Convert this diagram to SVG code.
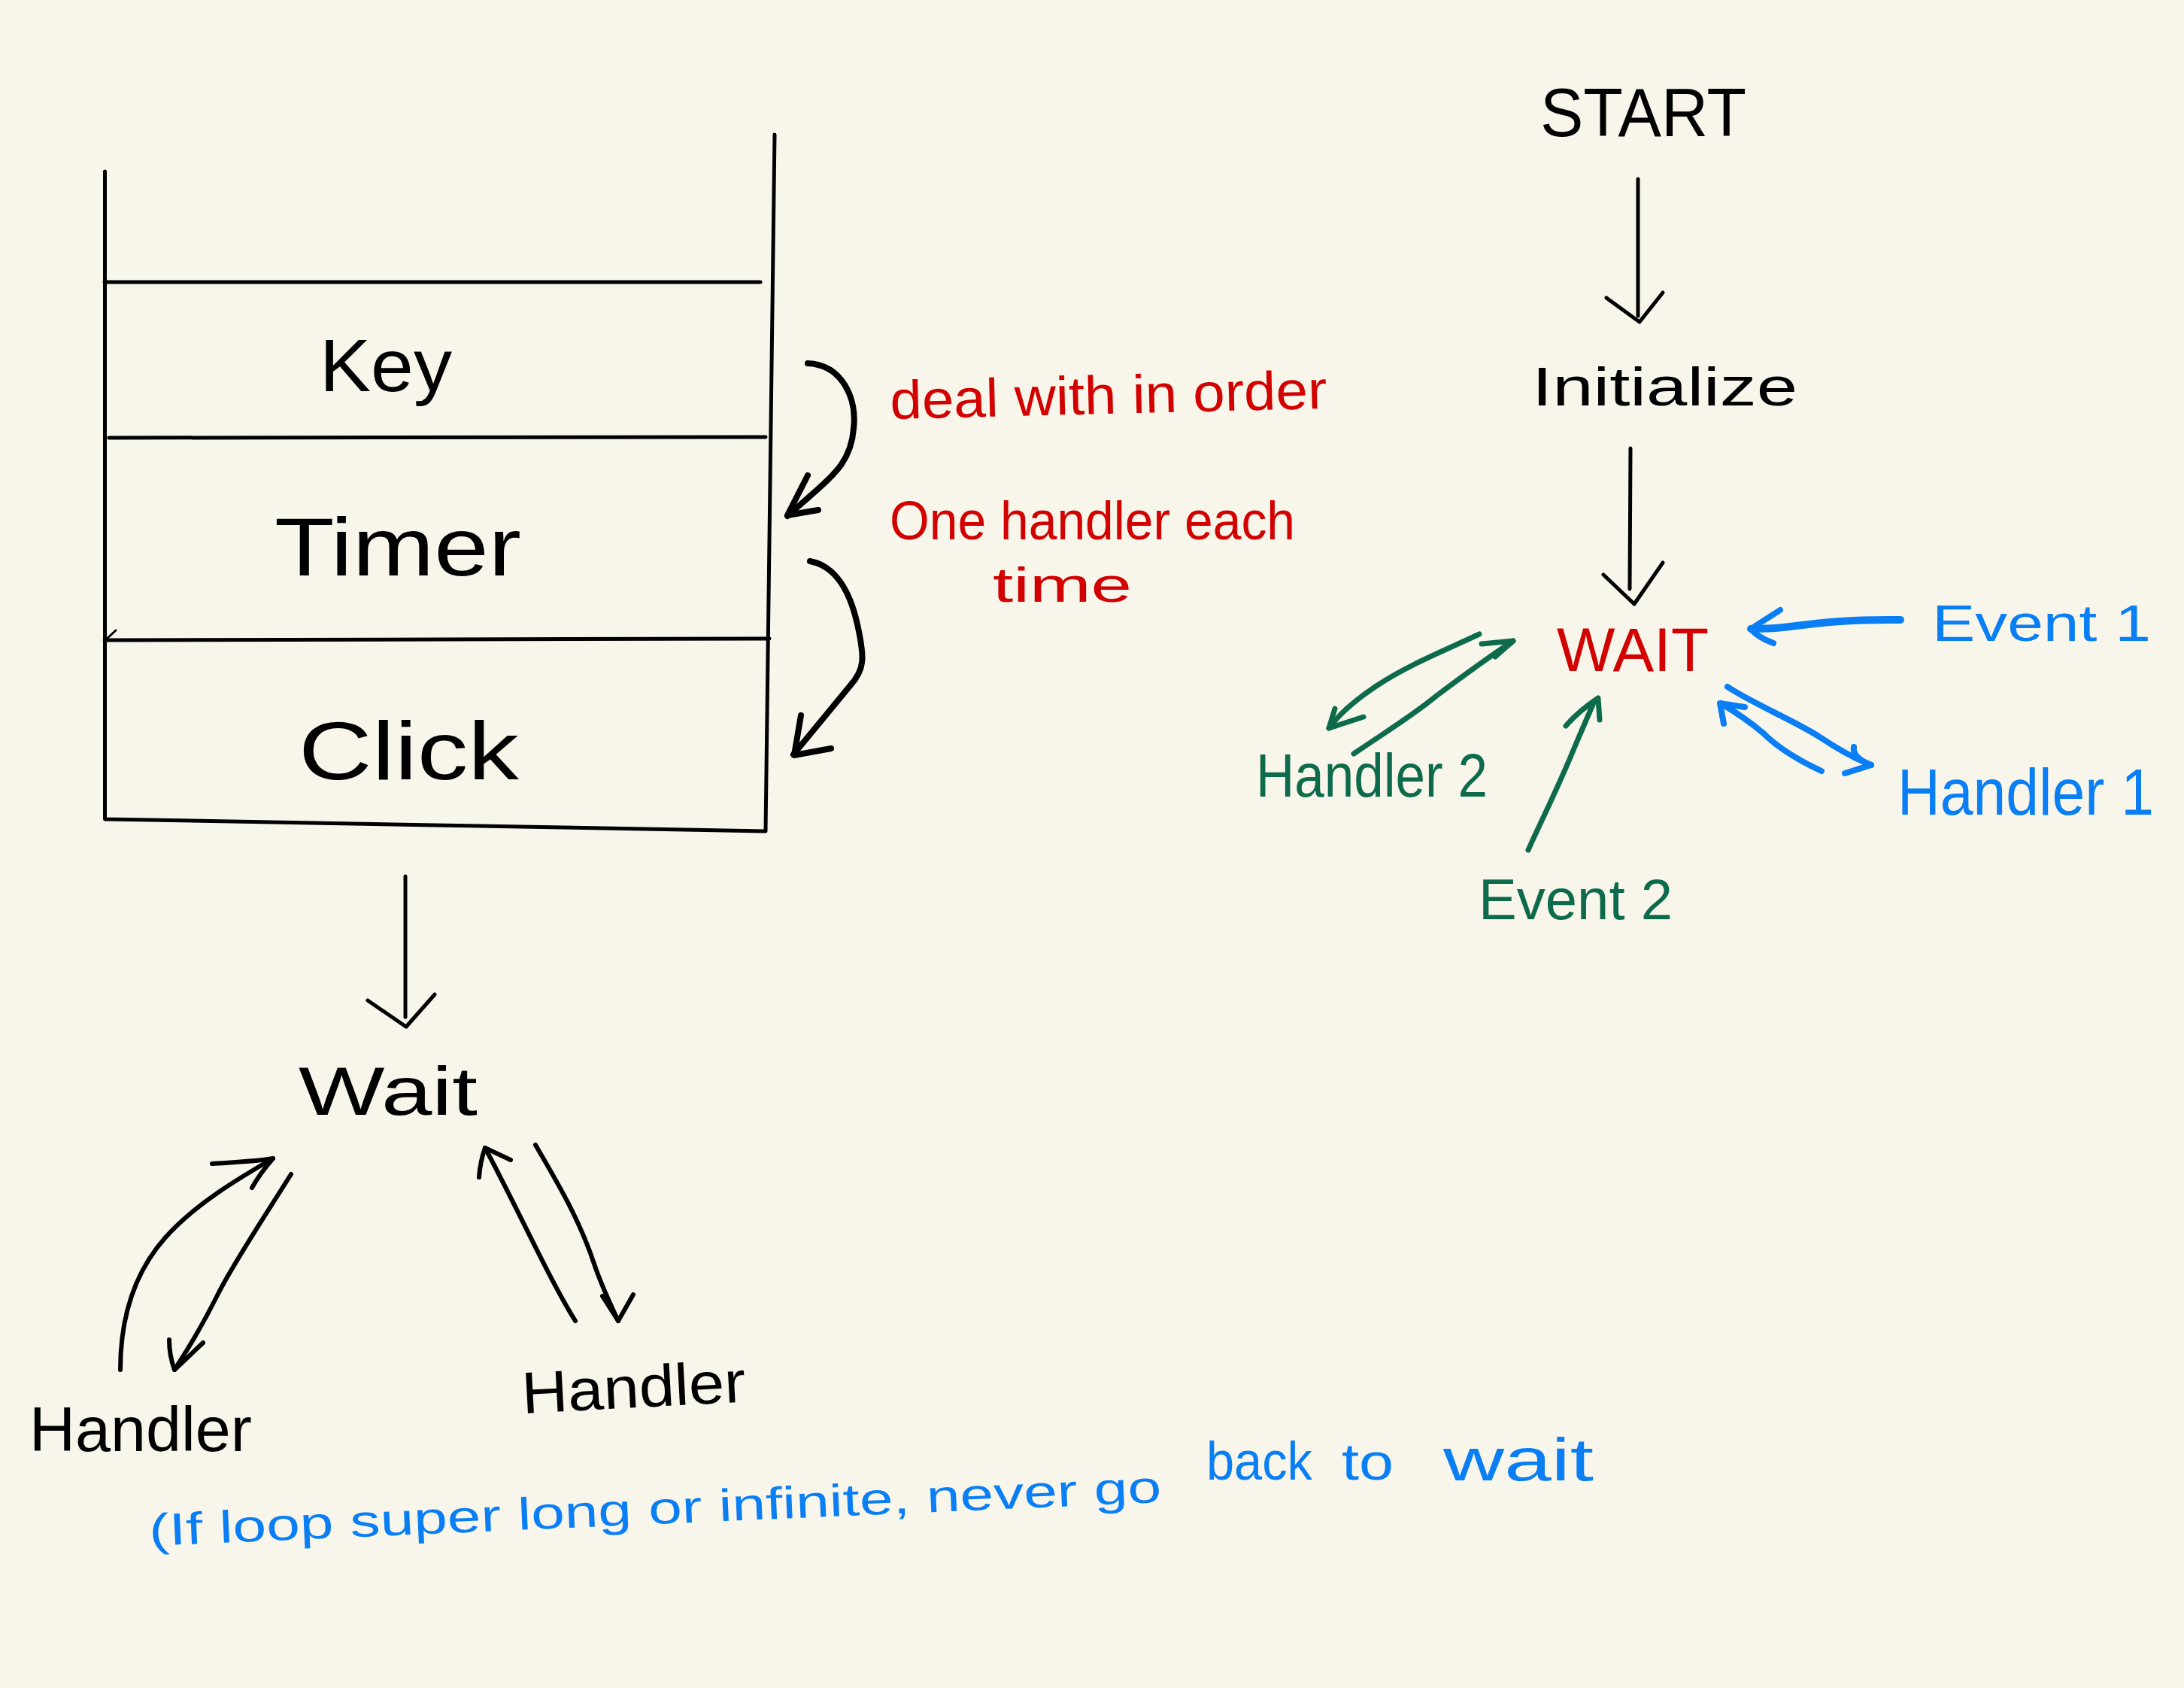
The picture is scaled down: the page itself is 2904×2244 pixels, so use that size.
<svg xmlns="http://www.w3.org/2000/svg" width="2904" height="2244" viewBox="0 0 2904 2244">
<style>
.bg{fill:#f8f6ea}
.ln{fill:none;stroke:#000;stroke-width:5;stroke-linecap:round;stroke-linejoin:round}
.arc{fill:none;stroke:#000;stroke-width:8;stroke-linecap:round;stroke-linejoin:round}
.blue{fill:none;stroke:#0a7ef5;stroke-width:8;stroke-linecap:round;stroke-linejoin:round}
.green{fill:none;stroke:#0d6b4c;stroke-width:7;stroke-linecap:round;stroke-linejoin:round}
text{font-family:"Liberation Sans","Noto Sans",sans-serif}
.tk{fill:#000}
.tr{fill:#d20000}
.tb{fill:#0a7ef5}
.tg{fill:#0d6b4c}
</style>
<rect class="bg" x="0" y="0" width="2904" height="2244"/>

<g id="queue">
  <path class="ln" d="M139.5,228 L139.5,1089 L1018,1105 L1030,179"/>
  <path class="ln" d="M139,375 L1011,375"/>
  <path class="ln" d="M145,582 L1018,581"/>
  <path class="ln" d="M139,851 L1023,849"/>
  <path class="ln" d="M154,838 L140,851" style="stroke-width:3"/>
  <text class="tk" x="425" y="520" font-size="98" textLength="176" lengthAdjust="spacingAndGlyphs">Key</text>
  <text class="tk" x="365" y="765" font-size="110" textLength="328" lengthAdjust="spacingAndGlyphs">Timer</text>
  <text class="tk" x="397" y="1036" font-size="110" textLength="293" lengthAdjust="spacingAndGlyphs">Click</text>
</g>

<g id="note-order">
  <text class="tr" x="1184" y="557" font-size="72" textLength="581" lengthAdjust="spacingAndGlyphs" transform="rotate(-1.4 1184 557)">deal with in order</text>
  <text class="tr" x="1183" y="717" font-size="72" textLength="539" lengthAdjust="spacingAndGlyphs">One handler each</text>
  <text class="tr" x="1320" y="800" font-size="64" textLength="185" lengthAdjust="spacingAndGlyphs">time</text>
</g>

<g id="start"><text class="tk" x="2048" y="181" font-size="91" textLength="274" lengthAdjust="spacingAndGlyphs">START</text></g>
<g id="initialize"><text class="tk" x="2037" y="539" font-size="73" textLength="353" lengthAdjust="spacingAndGlyphs">Initialize</text></g>
<g id="wait-main"><text class="tr" x="2070" y="892" font-size="81" textLength="202" lengthAdjust="spacingAndGlyphs">WAIT</text></g>
<g id="event1"><text class="tb" x="2569" y="852" font-size="68" textLength="291" lengthAdjust="spacingAndGlyphs">Event 1</text></g>
<g id="handler1"><text class="tb" x="2523" y="1083" font-size="88" textLength="341" lengthAdjust="spacingAndGlyphs">Handler 1</text></g>
<g id="handler2"><text class="tg" x="1670" y="1059" font-size="82" textLength="308" lengthAdjust="spacingAndGlyphs">Handler 2</text></g>
<g id="event2"><text class="tg" x="1966" y="1222" font-size="76" textLength="258" lengthAdjust="spacingAndGlyphs">Event 2</text></g>

<g id="wait-left"><text class="tk" x="397" y="1482" font-size="90" textLength="238" lengthAdjust="spacingAndGlyphs">Wait</text></g>
<g id="handler-left"><text class="tk" x="39" y="1929" font-size="84" textLength="296" lengthAdjust="spacingAndGlyphs">Handler</text></g>
<g id="handler-right"><text class="tk" x="695" y="1879" font-size="78" textLength="298" lengthAdjust="spacingAndGlyphs" transform="rotate(-3 695 1879)">Handler</text></g>

<g id="note-loop">
  <text class="tb" x="199" y="2055" font-size="60" textLength="1347" lengthAdjust="spacingAndGlyphs" transform="rotate(-2.47 199 2055)">(If loop super long or infinite, never go</text>
  <text class="tb" x="1604" y="1967" font-size="72" textLength="141" lengthAdjust="spacingAndGlyphs">back</text>
  <text class="tb" x="1784" y="1967" font-size="68" textLength="69" lengthAdjust="spacingAndGlyphs">to</text>
  <text class="tb" x="1919" y="1968" font-size="80" textLength="200" lengthAdjust="spacingAndGlyphs">wait</text>
</g>

<g id="connectors">
  <!-- queue order arcs -->
  <path class="arc" d="M1074,483 C1120,485 1140,530 1135,570 C1132,610 1110,630 1090,648 L1047,686"/>
  <path class="arc" d="M1074,632 L1047,685 L1088,678"/>
  <path class="arc" d="M1077,746 C1110,752 1130,785 1140,830 C1150,875 1150,890 1130,912 L1055,1003"/>
  <path class="arc" d="M1065,951 L1056,1004 L1105,995"/>
  <!-- queue to wait -->
  <path class="ln" d="M539,1165 L539,1352"/>
  <path class="ln" d="M489,1330 L540,1365 L578,1322"/>
  <!-- start/init/wait -->
  <path class="ln" d="M2178,238 L2178,420"/>
  <path class="ln" d="M2136,396 L2180,428 L2211,389"/>
  <path class="ln" d="M2168,596 L2167,783"/>
  <path class="ln" d="M2132,764 L2173,803 L2211,748"/>
  <!-- left handler loops -->
  <path class="arc" style="stroke-width:6" d="M160,1821 C160,1750 180,1690 220,1645 C260,1600 320,1565 363,1540"/>
  <path class="arc" style="stroke-width:6" d="M282,1547 C310,1545 340,1544 363,1540 C350,1555 340,1570 335,1579"/>
  <path class="arc" style="stroke-width:6" d="M387,1561 C350,1620 310,1680 290,1720 C260,1780 245,1800 232,1821"/>
  <path class="arc" style="stroke-width:6" d="M225,1781 C225,1795 228,1810 232,1821 L270,1785"/>
  <path class="arc" style="stroke-width:6" d="M765,1756 C730,1700 690,1610 645,1526"/>
  <path class="arc" style="stroke-width:6" d="M637,1565 C638,1550 640,1540 645,1526 L679,1542"/>
  <path class="arc" style="stroke-width:6" d="M712,1522 C740,1570 770,1620 790,1680 C800,1710 810,1730 822,1756"/>
  <path class="arc" style="stroke-width:6" d="M801,1723 L822,1756 L842,1721"/>
  <!-- event1 -->
  <path class="blue" style="stroke-width:10" d="M2527,824 C2460,823 2420,828 2380,833 C2360,836 2345,836 2328,836"/>
  <path class="blue" d="M2367,811 L2328,836 C2335,845 2350,852 2358,855"/>
  <!-- handler1 -->
  <path class="blue" d="M2297,913 C2330,935 2390,960 2420,980 C2450,1000 2470,1010 2488,1017"/>
  <path class="blue" d="M2465,993 C2463,1005 2475,1012 2488,1017 L2453,1028"/>
  <path class="blue" d="M2422,1025 C2390,1010 2365,995 2345,975 C2325,958 2305,945 2288,935"/>
  <path class="blue" d="M2292,962 L2287,935 L2320,940"/>
  <!-- handler2 -->
  <path class="green" d="M1967,843 C1920,865 1870,885 1830,912 C1800,932 1780,950 1767,968"/>
  <path class="green" d="M1775,942 L1767,968 L1813,953"/>
  <path class="green" d="M1800,1002 C1850,968 1880,950 1910,925 C1950,895 1985,870 2012,852"/>
  <path class="green" d="M1970,856 L2012,852 L1988,873"/>
  <!-- event2 -->
  <path class="green" d="M2032,1130 C2050,1090 2075,1040 2095,990 L2120,932"/>
  <path class="green" d="M2082,965 C2095,950 2110,938 2125,928 L2127,957"/>
</g>
</svg>
